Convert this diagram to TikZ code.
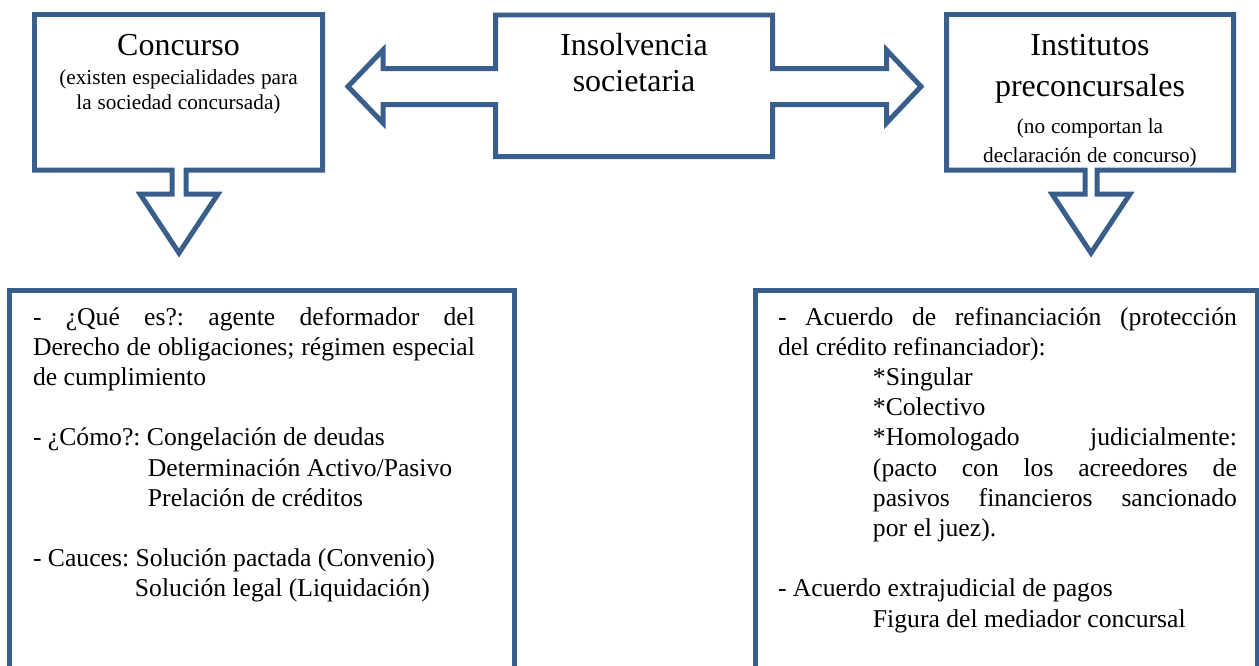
\documentclass[tikz,border=0pt]{standalone}
\usepackage{fontspec}
\setmainfont{Liberation Serif}[Ligatures=NoCommon]
\definecolor{outl}{HTML}{3A5E8C}
\newcommand\ttlfont{\fontsize{18.2pt}{23.8pt}\selectfont}
\newcommand\subfont{\fontsize{12.1pt}{14pt}\selectfont}
\newcommand\txtfont{\fontsize{14.6pt}{17.2pt}\selectfont}
\frenchspacing
\begin{document}
\begin{tikzpicture}[x=0.02cm, y=-0.02cm, line join=miter]
        \tikzstyle{every node}=[inner sep=0pt, outer sep=0pt]
        \tikzstyle{shapeline}=[draw=outl, line width=0.1cm]
        \tikzstyle{headtext}=[anchor=base, align=center, text width=5.6cm]
        \tikzstyle{bodytext}=[anchor=base west, align=justify]
        \useasboundingbox (0,0) rectangle (1259,666);
        \clip (0,0) rectangle (1259,666);
        \fill[white] (0,0) rectangle (1259,666);

        \draw[shapeline] (34.5,14.5) -- (322.5,14.5) -- (322.5,170) -- (186,170) -- (186,194) -- (218,194)
            -- (179,253) -- (140,194) -- (172,194) -- (172,170) -- (34.5,170) -- cycle;
        \draw[shapeline] (495.5,15) -- (772.5,15) -- (772.5,68.5) -- (886.5,68.5) -- (886.5,50) -- (921,86.5)
            -- (886.5,123) -- (886.5,104.5) -- (772.5,104.5) -- (772.5,156.5) -- (495.5,156.5) -- (495.5,104.5)
            -- (383,104.5) -- (383,123) -- (348,86.5) -- (383,50) -- (383,68.5) -- (495.5,68.5) -- cycle;
        \draw[shapeline] (946.5,14.5) -- (1233.5,14.5) -- (1233.5,170) -- (1097,170) -- (1097,194) -- (1130,194)
            -- (1091,253) -- (1052,194) -- (1085,194) -- (1085,170) -- (946.5,170) -- cycle;
        \draw[shapeline] (9.5,290) rectangle (514,700);
        \draw[shapeline] (755,290) rectangle (1257,700);

        \node[headtext] (conc) at (178.5,55) {\ttlfont Concurso\par\vspace{3pt}
            \subfont (existen especialidades para\\la sociedad concursada)\par};
        \node[headtext] (insol) at (634,55) {\fontsize{18.2pt}{21pt}\selectfont Insolvencia\\societaria\par};
        \node[headtext] (inst) at (1090,55) {\ttlfont Institutos\\preconcursales\par\vspace{4.5pt}
            \fontsize{12.1pt}{16.4pt}\selectfont (no comportan la\\declaración de concurso)\par};

        \node[bodytext, text width=8.84cm] (concb) at (33,325) {\txtfont
            - ¿Qué es?: agente deformador del\linebreak Derecho de obligaciones; régimen especial\linebreak de cumplimiento\par
            \vspace{\baselineskip}
            - ¿Cómo?: Congelación de deudas\\\hspace*{2.3cm}Determinación Activo/Pasivo\\\hspace*{2.3cm}Prelación de créditos\par
            \vspace{\baselineskip}
            - Cauces: Solución pactada (Convenio)\\\hspace*{2.04cm}Solución legal (Liquidación)\par};
        \node[bodytext, text width=9.18cm] (instb) at (778,325) {\txtfont
            - Acuerdo de refinanciación (protección\linebreak del crédito refinanciador):\par
            {\leftskip=1.9cm *Singular\par *Colectivo\par
            *Homologado judicialmente:\linebreak (pacto con los acreedores de\linebreak pasivos financieros sancionado\linebreak por el juez).\par}
            \vspace{\baselineskip}
            - Acuerdo extrajudicial de pagos\\\hspace*{1.9cm}Figura del mediador concursal\par};
    \end{tikzpicture}
\end{document}
